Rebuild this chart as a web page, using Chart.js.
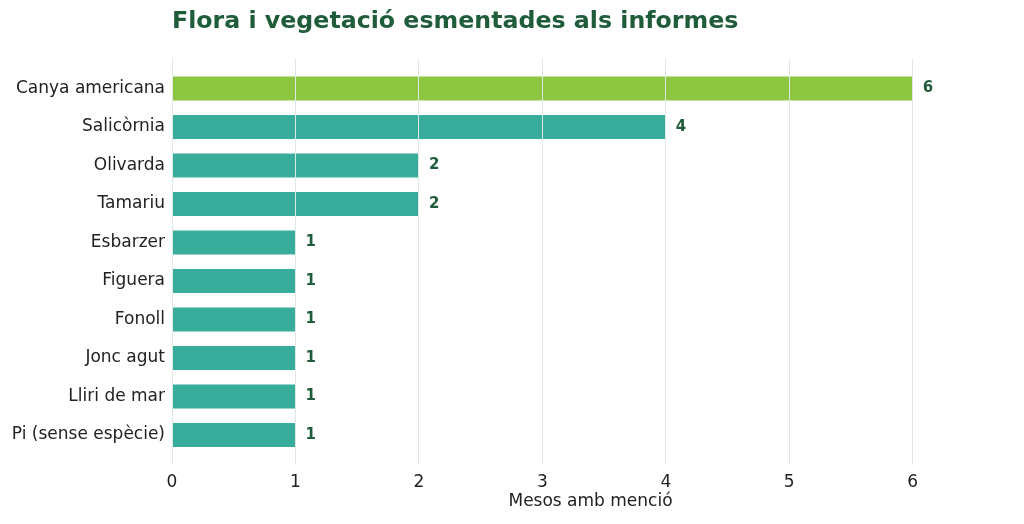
<!DOCTYPE html>
<html>
<head>
<meta charset="utf-8">
<script src="https://cdn.jsdelivr.net/npm/chart.js@4"></script>
<style>
  html, body { margin: 0; padding: 0; background: #fff; }
  #wrap { width: 1024px; height: 524px; }
</style>
</head>
<body>
<div id="wrap"><canvas id="chart" width="1024" height="524"></canvas></div>
<script>
// Flora mentioned in the reports, months with a mention
const categories = ['Canya americana', 'Salicòrnia', 'Olivarda', 'Tamariu', 'Esbarzer',
  'Figuera', 'Fonoll', 'Jonc agut', 'Lliri de mar', 'Pi (sense espècie)'];
const months = [6, 4, 2, 2, 1, 1, 1, 1, 1, 1];
const xTicks = [0, 1, 2, 3, 4, 5, 6];

const LIME = '#8dc63f';
const TEAL = '#38ad9b';
const DARK = '#1f5c3a';
const FONT = "'DejaVu Sans', sans-serif";

// value labels at the end of each bar
const valueLabels = {
  id: 'valueLabels',
  afterDatasetsDraw(chart) {
    const ctx = chart.ctx;
    const meta = chart.getDatasetMeta(0);
    ctx.save();
    ctx.font = 'bold 15px ' + FONT;
    ctx.fillStyle = DARK;
    ctx.textBaseline = 'middle';
    ctx.textAlign = 'left';
    meta.data.forEach((bar, i) => {
      ctx.fillText(String(months[i]), bar.x + 10, bar.y);
    });
    ctx.restore();
  }
};

new Chart(document.getElementById('chart').getContext('2d'), {
  type: 'bar',
  data: {
    datasets: [{
      data: months.map((v, i) => ({ x: v, y: i })),
      backgroundColor: months.map((v, i) => (i === 0 ? LIME : TEAL)),
      borderWidth: 0,
      barPercentage: 0.62,
      categoryPercentage: 1,
    }],
  },
  options: {
    indexAxis: 'y',
    responsive: false,
    animation: false,
    layout: { padding: { left: 0, right: 15, top: 0, bottom: 12 } },
    scales: {
      x: {
        type: 'linear',
        min: 0,
        max: 6.78,
        afterBuildTicks: (s) => { s.ticks = xTicks.map((v) => ({ value: v })); },
        afterFit: (s) => { s.height = 47; },
        grid: { color: '#dfe9e3', lineWidth: 1, drawTicks: false, z: 1 },
        border: { display: false },
        ticks: { padding: 7, color: '#222', font: { family: FONT, size: 17 } },
        title: {
          display: true,
          text: 'Mesos amb menció',
          color: '#222',
          font: { family: FONT, size: 17 },
          padding: { top: 2, bottom: 0 },
        },
      },
      y: {
        type: 'linear',
        reverse: true,
        offset: false,
        min: -0.78,
        max: 9.78,
        afterBuildTicks: (s) => { s.ticks = categories.map((c, i) => ({ value: i })); },
        afterFit: (s) => { s.width = 172; },
        grid: { display: false, drawTicks: false },
        border: { display: false },
        ticks: {
          padding: 7,
          color: '#222',
          font: { family: FONT, size: 17 },
          callback: (v) => categories[v] ?? '',
        },
      },
    },
    plugins: {
      legend: { display: false },
      tooltip: { enabled: false },
      title: {
        display: true,
        text: 'Flora i vegetació esmentades als informes',
        align: 'start',
        fullSize: false,
        color: DARK,
        font: { family: FONT, size: 23.7, weight: 'bold' },
        padding: { top: 8, bottom: 22 },
      },
    },
  },
  plugins: [valueLabels],
});
</script>
</body>
</html>
